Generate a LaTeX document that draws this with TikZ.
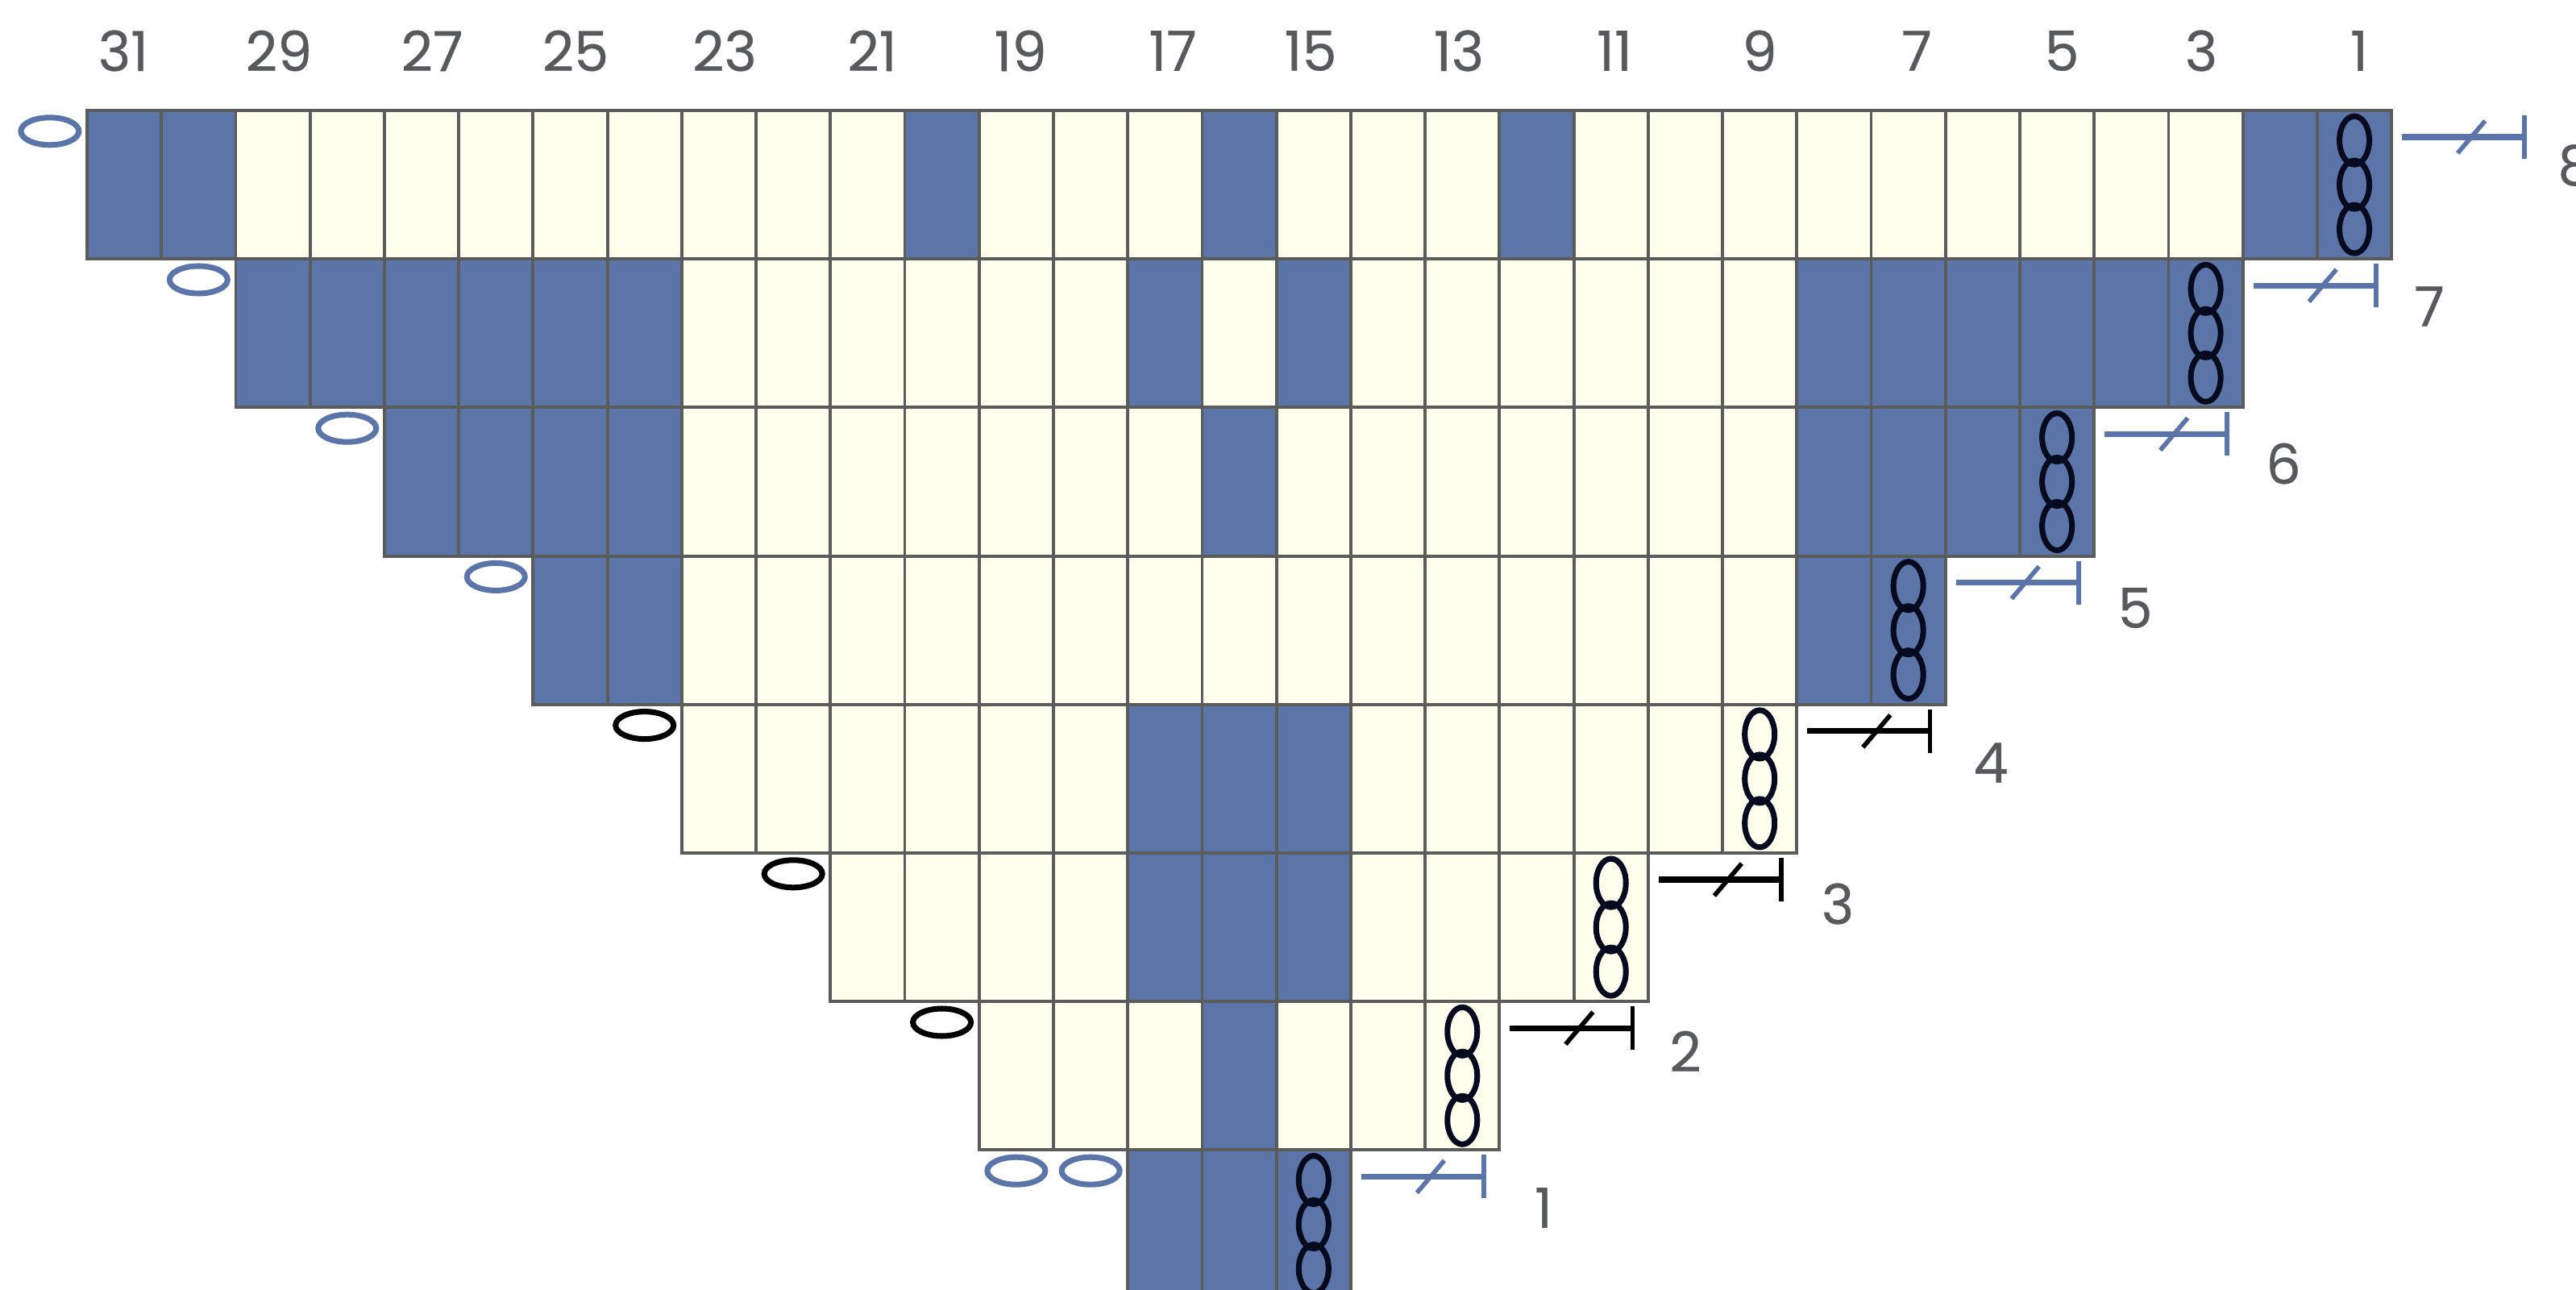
\documentclass[tikz,border=0pt]{standalone}
\usepackage{fontspec}
\setmainfont{Poppins}[FakeBold=0.4]
\usepackage{xcolor}
\usepackage{tikz}
\definecolor{stblue}{HTML}{5B75A9}
\definecolor{stcream}{HTML}{FFFFED}
\definecolor{stline}{HTML}{5A5C5C}
\definecolor{sttext}{HTML}{58595B}
\definecolor{stink}{HTML}{050A1E}
\begin{document}
\begin{tikzpicture}[
    cream/.style={fill=stcream, draw=stline, line width=1.1pt},
    blue/.style={fill=stblue, draw=stline, line width=1.1pt},
    num/.style={text=sttext, inner sep=0pt, font=\fontsize{19.5}{19.5}\selectfont},
    oval/.style={line width=2pt, x radius=0.36cm, y radius=0.17cm},
    chainst/.pic={
        \foreach \dy in {-0.55,0,0.55}
            \draw[line width=2pt] (0,\dy cm) ellipse [x radius=0.185cm, y radius=0.30cm];
    },
    barst/.pic={
        \draw[line width=2pt] (0.13cm,-0.33cm) -- (1.65cm,-0.33cm);
        \draw[line width=1.6pt] (1.65cm,-0.06cm) -- (1.65cm,-0.60cm);
        \draw[line width=1.6pt] (0.82cm,-0.53cm) -- (1.16cm,-0.13cm);
    }
]
    \path[use as bounding box, clip] (0,0) rectangle (31.96,-15.99);

    % column numbers
    \foreach \n/\x in {31/1.53,29/3.46,27/5.36,25/7.14,23/8.99,21/10.82,19/12.66,17/14.55,15/16.26,13/18.10,11/20.03,9/21.83,7/23.78,5/25.58,3/27.31,1/29.27}
        \node[num] (col\n) at (\x,-0.63) {\n};

    % row numbers
    \foreach \n/\x/\y in {8/31.95/2.05,7/30.14/3.80,6/28.33/5.75,5/26.49/7.54,4/24.70/9.46,3/22.80/11.21,2/20.91/13.04,1/19.15/14.98}
        \node[num] (row\n) at (\x,-\y) {\n};

    \begin{scope}[shift={(1.08,-1.37)}, x=0.9223cm, y=-1.842cm]
        % rows: top index, first and last column
        \foreach \k/\a/\b in {0/0/30,1/2/28,2/4/26,3/6/24,4/8/22,5/10/20,6/12/18,7/14/16}
            \foreach \c in {\a,...,\b}
                \draw[cream] (\c,\k) rectangle +(1,1);

        % blue cells
        \foreach \k/\c in {0/0,0/1,0/11,0/15,0/19,0/29,0/30,
            1/2,1/3,1/4,1/5,1/6,1/7,1/14,1/16,1/23,1/24,1/25,1/26,1/27,1/28,
            2/4,2/5,2/6,2/7,2/15,2/23,2/24,2/25,2/26,
            3/6,3/7,3/23,3/24,
            4/14,4/15,4/16,5/14,5/15,5/16,6/15,7/14,7/15,7/16}
            \draw[blue] (\c,\k) rectangle +(1,1);

        % yarn overs
        \foreach \k/\c/\col in {0/-0.5/stblue,1/1.5/stblue,2/3.5/stblue,3/5.5/stblue,4/7.5/black,5/9.5/black,6/11.5/black,7/12.5/stblue,7/13.5/stblue}
            \draw[oval, draw=\col] (\c,\k+0.14) ellipse [];

        % chains and bars at row ends
        \foreach \k/\c/\col in {0/30/stblue,1/28/stblue,2/26/stblue,3/24/stblue,4/22/black,5/20/black,6/18/black,7/16/stblue}{
            \pic[color=stink] at (\c+0.5,\k+0.5) {chainst};
            \pic[color=\col] at (\c+1,\k) {barst};
        }
    \end{scope}
\end{tikzpicture}
\end{document}
